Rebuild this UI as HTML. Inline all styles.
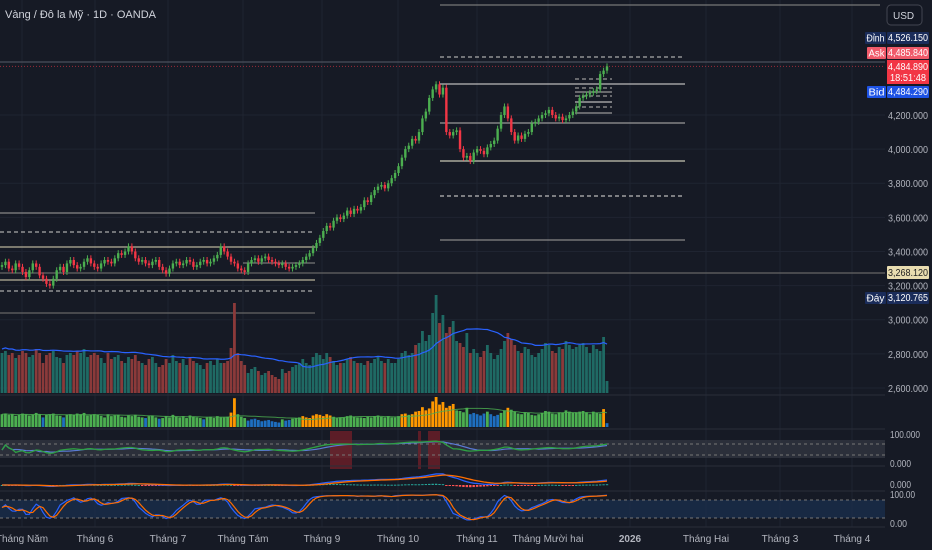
<!DOCTYPE html>
<html><head><meta charset="utf-8"><style>
body{margin:0;background:#161a25;overflow:hidden}
svg{display:block;font-family:"Liberation Sans","Noto Sans CJK SC",sans-serif}
</style></head><body>
<svg id="c" width="932" height="550" viewBox="0 0 932 550"></svg>
<script>
const closes=[3320,3340,3300,3290,3330,3310,3280,3250,3290,3330,3310,3260,3240,3210,3200,
3240,3290,3310,3280,3330,3350,3320,3300,3310,3340,3360,3330,3310,3300,3330,3350,3340,3330,3360,3390,3380,3400,3430,
3400,3360,3340,3350,3330,3320,3340,3350,3310,3290,3270,3300,3330,3340,3320,3330,3350,3340,3310,3320,3340,3350,3330,3340,3360,3380,3430,
3400,3370,3340,3330,3300,3290,3280,3330,3350,3360,3340,3360,3370,3350,3340,3330,3320,3330,3310,3300,3310,3320,3330,
3350,3370,3390,3420,3450,3480,3520,3550,3540,3580,3600,3590,3610,3640,3620,3650,3640,3660,3700,3690,3730,3760,3780,3790,3770,3800,3830,3860,3900,3950,4000,4020,4060,4050,4100,4180,4220,4300,4350,4380,4320,4360,
4100,4080,4100,4110,4000,3950,3960,3930,3980,4000,3990,3970,4010,4030,4050,4120,4200,4250,
4180,4100,4050,4080,4060,4090,4100,4150,4160,4180,4200,4210,4230,4200,4180,4190,4170,4180,4200,4220,4250,4300,4310,4320,4330,4340,4350,4440,4460,4485];
const volumes=[40,42,38,40,35,38,42,40,36,38,44,40,30,38,40,42,36,35,30,38,40,38,42,40,44,36,38,40,38,35,30,
40,34,36,38,32,30,36,34,38,32,30,28,34,36,30,26,28,34,30,38,32,30,34,28,36,32,30,28,24,30,32,28,34,30,
30,32,45,90,40,32,28,20,24,26,22,18,20,22,18,16,14,24,20,22,26,28,30,
34,30,28,36,40,38,34,40,36,32,28,30,30,34,36,32,30,30,28,32,30,34,36,32,30,34,30,30,34,40,42,38,40,48,50,62,52,58,80,98,70,78,
60,66,72,52,50,46,60,40,44,40,36,42,48,40,34,38,44,52,
60,54,48,42,40,46,44,38,36,40,44,50,48,42,40,46,44,52,48,44,46,48,50,46,40,48,44,42,56,12];
const priceTicks=[4200,4000,3800,3600,3400,3200,3000,2800,2600];
const monthLabels=["Tháng Năm","Tháng 6","Tháng 7","Tháng Tám","Tháng 9","Tháng 10","Tháng 11","Tháng Mười hai","2026","Tháng Hai","Tháng 3","Tháng 4"];
const monthX=[22,95,168,243,322,398,477,548,630,706,780,852];

const S=document.getElementById('c');const NS='http://www.w3.org/2000/svg';
function el(t,a,p){const e=document.createElementNS(NS,t);for(const k in a)e.setAttribute(k,a[k]);(p||S).appendChild(e);return e;}
const N=Math.min(closes.length,volumes.length);
const step=(607-2)/(N-1);
const X=i=>2+i*step;
const Y=p=>115+(4200-p)*0.1706;
for(const t of priceTicks){const g=el('line',{x1:0,x2:885,y1:Y(t),y2:Y(t),stroke:'#1f2431','stroke-width':1});}
for(const mx of monthX){const g=el('line',{x1:mx,x2:mx,y1:0,y2:527,stroke:'#1f2431','stroke-width':1});}
const levels=[[440,880,5,'#777',0],[440,685,57,'#aaa',1],[0,885,62,'#4a4f5c',0],[440,685,84,'#bbb',0],[440,685,123,'#999',0],[440,685,161,'#c8c6b4',0],[440,685,196,'#bbb',1],[440,685,240,'#888',0],[0,885,273,'#666',0],[0,315,213,'#888',0],[0,315,232,'#aaa',1],[0,315,247,'#b8b29a',0],[243,315,263,'#777',0],[0,315,280,'#b8b29a',0],[0,315,291,'#aaa',1],[0,315,313,'#666',0],
[575,612,79,'#999',1],[575,612,88,'#999',1],[575,612,92,'#999',0],[575,612,96,'#999',1],[575,612,102,'#bbb',0],[575,612,107,'#999',1],[575,612,113,'#999',0]];
for(const l of levels){const g=el('line',{x1:l[0],x2:l[1],y1:l[2],y2:l[2],stroke:l[3],'stroke-width':1.2,'stroke-dasharray':l[4]?'4 3':'none'});}
el('line',{x1:0,x2:885,y1:Y(4484.89),y2:Y(4484.89),stroke:'#f23645','stroke-width':1,'stroke-dasharray':'1 2','opacity':0.6});
for(let i=0;i<N;i++){const c=closes[i],o=i?closes[i-1]:c-10;const up=c>=o;const col=up?'#4caf50':'#f23645';
 const y1=Y(Math.max(o,c)),y2=Y(Math.min(o,c));
 const w=el('line',{x1:X(i),x2:X(i),y1:y1-3,y2:y2+3,stroke:col,'stroke-width':1});
 const r=el('rect',{x:X(i)-1.2,y:y1,width:2.4,height:Math.max(1,y2-y1),fill:col});}
const ma=[];for(let i=0;i<N;i++){let s=0,n=0;for(let j=Math.max(0,i-19);j<=i;j++){s+=volumes[j];n++;}ma.push(s/n);}
for(let i=0;i<N;i++){const up=i==0||closes[i]>=closes[i-1];
 const r=el('rect',{x:X(i)-1.4,y:393-volumes[i],width:2.8,height:volumes[i],fill:up?'#1f6a64':'#8b3a3a'});
 const v=volumes[i],h=Math.min(30,v*0.32);const col=v>1.15*ma[i]?'#ff9800':(v<0.8*ma[i]?'#1e6fc0':'#4caf50');
 const r2=el('rect',{x:X(i)-1.4,y:427-h,width:2.8,height:h,fill:col});}
let d='';for(let i=0;i<N;i++)d+=(i?'L':'M')+X(i)+' '+(393-ma[i]*1.1);
const vm=el('path',{d:d,fill:'none',stroke:'#2962ff','stroke-width':1.2});
d='';for(let i=0;i<N;i++)d+=(i?'L':'M')+X(i)+' '+(427-ma[i]*0.32);
el('path',{d:d,fill:'none',stroke:'#4caf50','stroke-width':1,opacity:0.8});
// RSI pane
el('rect',{x:0,y:440,width:885,height:18,fill:'#3a3e4a',opacity:0.6});
for(const [a,b] of [[330,352],[418,421],[428,440]]){const r=el('rect',{x:a,y:431,width:b-a,height:38,fill:'#7a1f28',opacity:0.7});}
el('line',{x1:0,x2:885,y1:444,y2:444,stroke:'#777','stroke-dasharray':'3 3'});el('line',{x1:0,x2:885,y1:455,y2:455,stroke:'#777','stroke-dasharray':'3 3'});
const sm=(a,n)=>a.map((v,i)=>{let s=0,c=0;for(let j=Math.max(0,i-n+1);j<=i;j++){s+=a[j];c++;}return s/c;});
const rsiRaw=[];let ag=0,al=0;for(let i=0;i<N;i++){const ch=i?closes[i]-closes[i-1]:0;const g=Math.max(ch,0),l=Math.max(-ch,0);ag=(ag*13+g)/14;al=(al*13+l)/14;rsiRaw.push(al+ag?100*ag/(ag+al):50);}
const rsi=sm(rsiRaw,3);
const ry=v=>460-v*0.2;
const rsm=sm(rsiRaw,10);
d='';rsm.forEach((v,i)=>d+=(i?'L':'M')+X(i)+' '+ry(v));el('path',{d:d,fill:'none',stroke:'#5b7bd5','stroke-width':1.2});
d='';rsi.forEach((v,i)=>d+=(i?'L':'M')+X(i)+' '+ry(v));const rl=el('path',{d:d,fill:'none',stroke:'#2ea043','stroke-width':1.3});
// MACD
const ema=(a,n)=>{const k=2/(n+1);const o=[];a.forEach((v,i)=>o.push(i?v*k+o[i-1]*(1-k):v));return o;};
const e12=ema(closes,12),e26=ema(closes,26);const macd=e12.map((v,i)=>v-e26[i]);const sig=ema(macd,9);
const my=v=>485-v*0.06;
for(let i=0;i<N;i++){const h=(macd[i]-sig[i])*0.04;const r=el('rect',{x:X(i)-1.2,y:h>=0?485-h:485,width:2.4,height:Math.max(1,Math.abs(h)),fill:h>=0?'#26a69a':'#ff5252'});}
d='';macd.forEach((v,i)=>d+=(i?'L':'M')+X(i)+' '+my(v));el('path',{d:d,fill:'none',stroke:'#2962ff','stroke-width':1.3});
d='';sig.forEach((v,i)=>d+=(i?'L':'M')+X(i)+' '+my(v));el('path',{d:d,fill:'none',stroke:'#ff6d00','stroke-width':1.3});
// Stoch
el('rect',{x:0,y:500,width:885,height:18,fill:'#1a3050',opacity:0.7});
el('line',{x1:0,x2:885,y1:500,y2:500,stroke:'#777','stroke-dasharray':'3 3'});el('line',{x1:0,x2:885,y1:518,y2:518,stroke:'#777','stroke-dasharray':'3 3'});
const kraw=closes.map((c,i)=>{const w=closes.slice(Math.max(0,i-13),i+1);const hi=Math.max(...w)+15,lo=Math.min(...w)-15;return 100*(c-lo)/(hi-lo);});
const K=sm(kraw,3),D=sm(K,3);const sy=v=>521-v*0.27;
d='';K.forEach((v,i)=>d+=(i?'L':'M')+X(i)+' '+sy(v));el('path',{d:d,fill:'none',stroke:'#2962ff','stroke-width':1.2});
d='';D.forEach((v,i)=>d+=(i?'L':'M')+X(i)+' '+sy(v));el('path',{d:d,fill:'none',stroke:'#ff6d00','stroke-width':1.2});
for(const y of [395,429,466,491,527]){el('line',{x1:0,x2:932,y1:y,y2:y,stroke:'#2a2e39','stroke-width':1});}
// right axis
el('rect',{x:885,y:0,width:47,height:550,fill:'#161a25'});
function txt(x,y,s,fg,len,anchor){const t=el('text',{x:x,y:y,'text-anchor':anchor||'start','font-size':10,fill:fg});if(len){t.setAttribute('textLength',len);t.setAttribute('lengthAdjust','spacingAndGlyphs');}t.textContent=s;return t;}
for(const t of priceTicks){const tx=txt(888,Y(t)+4,t.toLocaleString('en-US')+'.000','#b2b5be',40);}
function lab(y,h,bg,s,fg){el('rect',{x:887,y:y,width:42,height:h,fill:bg,rx:1});txt(888,y+h-3,s,fg||'#fff',40);}
function tag(x,y,w,bg,s){el('rect',{x:x,y:y,width:w,height:12,fill:bg,rx:1});txt(x+1.5,y+9.5,s,'#fff',w-3);}
lab(32,12,'#1a2c5a','4,526.150');tag(865,32,21,'#1a2c5a','Đỉnh');
lab(47,12,'#f05a6a','4,485.840');tag(867,47,19,'#f05a6a','Ask');
el('rect',{x:887,y:60,width:42,height:24,fill:'#f23645'});
txt(888,70,'4,484.890','#fff',40);txt(890,81,'18:51:48','#fff',36);
lab(86,12,'#1e53e5','4,484.290');tag(867,86,19,'#1e53e5','Bid');
lab(266,13,'#e8dcb0','3,268.120','#222');
lab(292,12,'#1a2c5a','3,120.765');tag(865,292,21,'#1a2c5a','Đáy');
for(const [y,s,l] of [[438,'100.000',30],[467,'0.000',21],[488,'0.000',21],[498,'100.00',25],[527,'0.00',17]]){txt(890,y,s,'#b2b5be',l);}
el('rect',{x:887,y:5,width:35,height:20,rx:4,fill:'#131722',stroke:'#434651'});
let t=txt(893,19,'USD','#d1d4dc');
t=el('text',{x:5,y:18,'font-size':11,fill:'#d1d4dc'});t.textContent='Vàng / Đô la Mỹ · 1D · OANDA';
monthLabels.forEach((m,i)=>{const tx=el('text',{x:monthX[i],y:542,'text-anchor':'middle','font-size':10,fill:'#b2b5be','font-weight':m==='2026'?'bold':'normal'});tx.textContent=m;});
</script>
</body></html>
